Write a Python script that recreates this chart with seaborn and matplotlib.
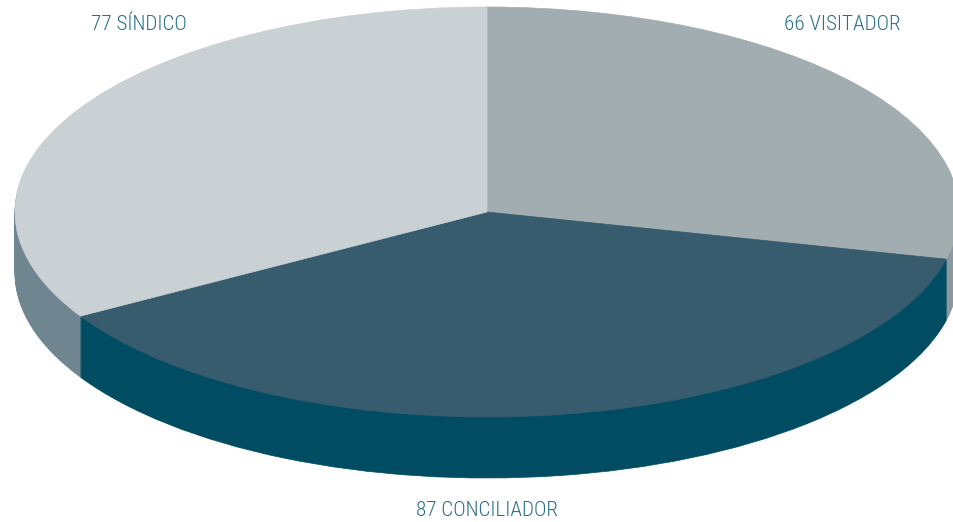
import matplotlib
matplotlib.use('Agg')
import matplotlib.pyplot as plt
import seaborn as sns

# Values and labels
cargos = ['VISITADOR', 'CONCILIADOR', 'SÍNDICO']
valores = [66, 87, 77]
colores_top = ['#a2adb1', '#365c6e', '#c9d1d4']
colores_lado = ['#8a999f', '#004d63', '#6f8590']
color_texto = '#2a6f87'

sns.set_theme(style='white')
plt.rcParams['font.family'] = ['Roboto Condensed', 'Archivo Narrow', 'Liberation Sans', 'DejaVu Sans']

fig = plt.figure(figsize=(9.54, 5.22), dpi=100)
ax = fig.add_axes([0, 0, 1, 1])

# Ellipse size in pixels: the pie is squashed by the axis limits
cx, cy, rx, ry, fondo = 487, 212, 472, 205, 61


def capa(colores, bajada):
    wedges, _ = ax.pie(valores, colors=colores, startangle=90, counterclock=False,
                       center=(0, -bajada / ry), radius=1)
    # same colour on the edge so the white theme line does not show
    for w in wedges:
        w.set_edgecolor(w.get_facecolor())
        w.set_linewidth(0.5)


# Side wall: a stack of pies, one per pixel of depth
for p in range(fondo, 0, -1):
    capa(colores_lado, p)

# Top face
capa(colores_top, 0)

ax.set_aspect('auto')
ax.set_xlim((0 - cx) / rx, (954 - cx) / rx)
ax.set_ylim((cy - 522) / ry, cy / ry)
ax.axis('off')

# Labels, in axes fractions
ax.text(139 / 954, 1 - 25 / 522, f'{valores[2]} {cargos[2]}', transform=ax.transAxes,
        ha='center', va='center', color=color_texto, fontsize=15.2, fontweight='light')
ax.text(842 / 954, 1 - 25 / 522, f'{valores[0]} {cargos[0]}', transform=ax.transAxes,
        ha='center', va='center', color=color_texto, fontsize=15.2, fontweight='light')
ax.text(487 / 954, 1 - 511 / 522, f'{valores[1]} {cargos[1]}', transform=ax.transAxes,
        ha='center', va='center', color=color_texto, fontsize=15.2, fontweight='light')

fig.savefig('out.png', dpi=100)
